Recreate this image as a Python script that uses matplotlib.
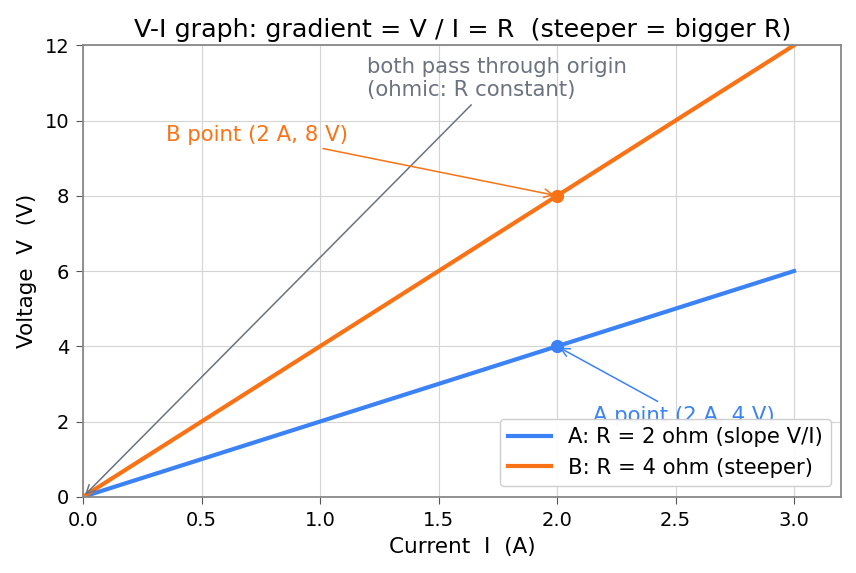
import matplotlib
matplotlib.use("Agg")
import matplotlib.pyplot as plt
import numpy as np

current = [0.0, 3.0]
voltage_a = [0.0, 6.0]
voltage_b = [0.0, 12.0]
point_i = 2.0
point_va = 4.0
point_vb = 8.0

blue = "#3b82f6"
orange = "#f97316"
gray = "#6b7280"

fig, ax = plt.subplots(figsize=(8.56, 5.73), dpi=100)
fig.subplots_adjust(left=0.097, right=0.983, top=0.921, bottom=0.133)

ax.plot(current, voltage_a, color=blue, lw=3, label="A: R = 2 ohm (slope V/I)")
ax.plot(current, voltage_b, color=orange, lw=3, label="B: R = 4 ohm (steeper)")
ax.plot([point_i], [point_va], "o", color=blue, ms=8.5)
ax.plot([point_i], [point_vb], "o", color=orange, ms=8.5)

ax.annotate("both pass through origin\n(ohmic: R constant)", xy=(0, 0), xytext=(1.2, 10.65),
            color=gray, fontsize=15.3,
            arrowprops=dict(arrowstyle="->", color=gray, lw=1.1))
ax.annotate("B point (2 A, 8 V)", xy=(point_i, point_vb), xytext=(0.35, 9.45),
            color=orange, fontsize=15.3,
            arrowprops=dict(arrowstyle="->", color=orange, lw=1.1))
ax.annotate("A point (2 A, 4 V)", xy=(point_i, point_va), xytext=(2.15, 2.0),
            color=blue, fontsize=15.3,
            arrowprops=dict(arrowstyle="->", color=blue, lw=1.1))

ax.set_xlim(0, 3.2)
ax.set_ylim(0, 12)
ax.set_xticks([0, 0.5, 1.0, 1.5, 2.0, 2.5, 3.0])
ax.set_yticks([0, 2, 4, 6, 8, 10, 12])
ax.grid(True, color="#d4d4d4", lw=0.8)
ax.set_axisbelow(True)
for s in ax.spines.values():
    s.set_color("#888888")
    s.set_linewidth(1.3)
ax.tick_params(labelsize=14, color="#555555", length=5, pad=5)
ax.set_xlabel("Current  I  (A)", fontsize=15.5, labelpad=5.5)
ax.set_ylabel("Voltage  V  (V)", fontsize=15.5, labelpad=5.5)
ax.set_title("V-I graph: gradient = V / I = R  (steeper = bigger R)", fontsize=18.3)
ax.legend(loc="lower right", fontsize=15.2, framealpha=0.95)

fig.savefig("out.png", dpi=100)
